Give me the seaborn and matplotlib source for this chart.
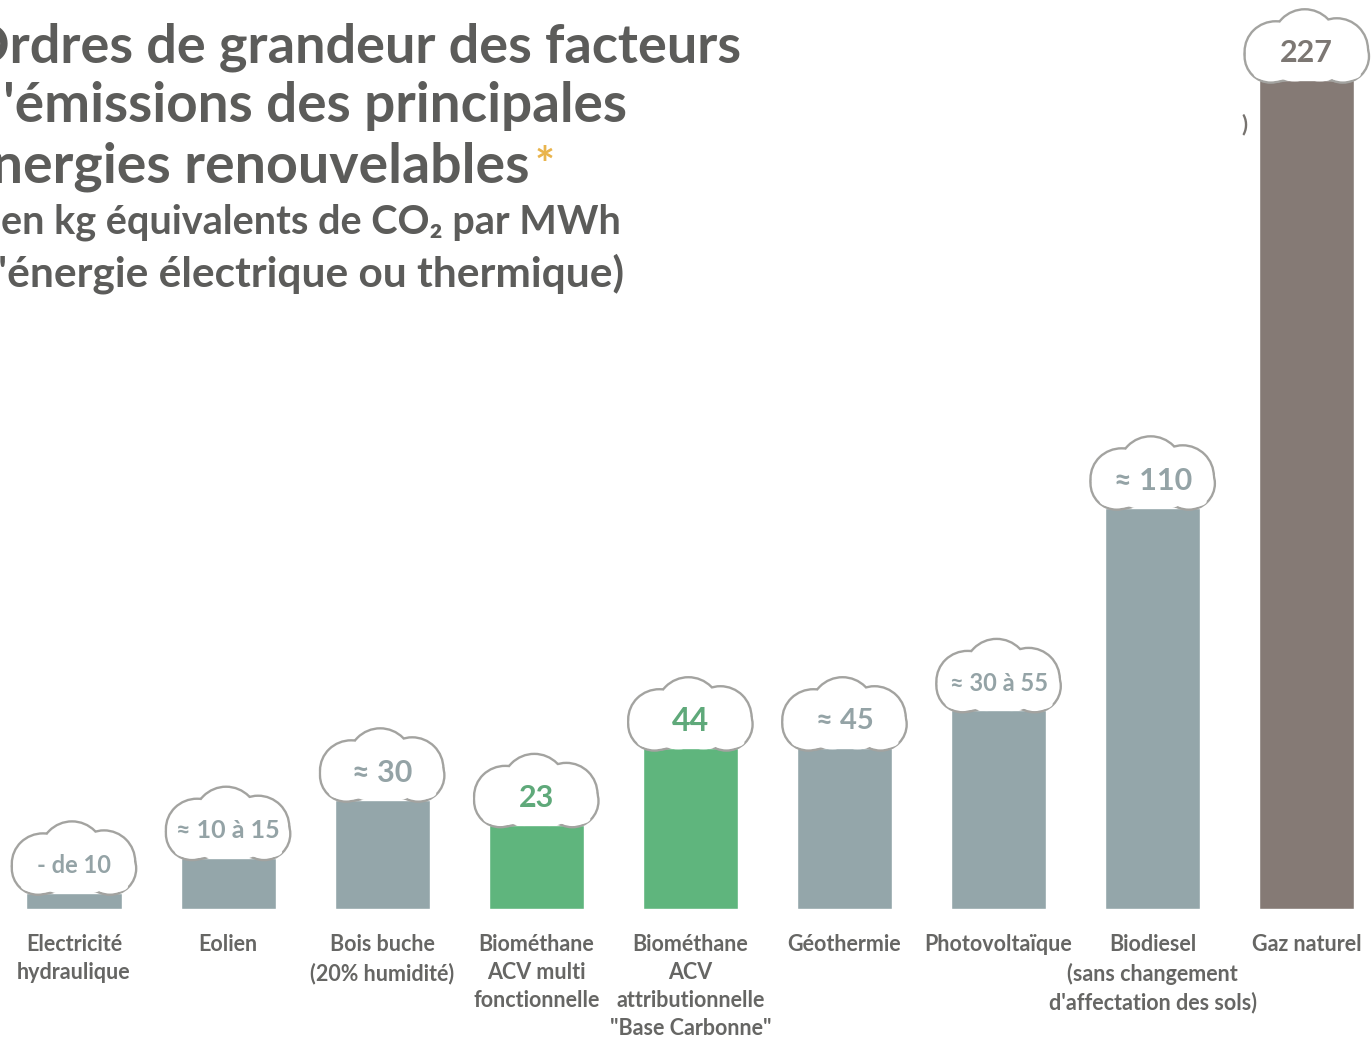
import matplotlib
matplotlib.use("Agg")
import matplotlib.pyplot as plt
from matplotlib.patches import Ellipse
from matplotlib.transforms import Affine2D
import seaborn as sns

sources = ["Electricité\nhydraulique", "Eolien", "Bois buche\n(20% humidité)",
           "Biométhane\nACV multi\nfonctionnelle",
           "Biométhane\nACV\nattributionnelle\n\"Base Carbonne\"",
           "Géothermie", "Photovoltaïque",
           "Biodiesel\n(sans changement\nd'affectation des sols)", "Gaz naturel"]
values = [4.5, 14, 30, 23, 44, 44, 54.5, 110, 227]
cloud_labels = ["- de 10", "≈ 10 à 15", "≈ 30", "23", "44", "≈ 45", "≈ 30 à 55", "≈ 110", "227"]
cloud_sizes = [17, 18, 22, 22, 23, 21, 17, 22, 22]
GREY, GREEN, BROWN = "#94a6aa", "#5fb57d", "#857a75"
bar_colors = [GREY, GREY, GREY, GREEN, GREEN, GREY, GREY, GREY, BROWN]
label_colors = ["#94a3a6", "#94a3a6", "#94a3a6", "#5fa97a", "#5fa97a",
                "#94a3a6", "#94a3a6", "#94a3a6", "#7c7773"]
title_lines = ["Ordres de grandeur des facteurs", "d'émissions des principales", "énergies renouvelables"]
subtitle_lines = ["(en kg équivalents de CO₂ par MWh", "d'énergie électrique ou thermique)"]

W, H = 1371, 1044
TEXT = "#5c5c5a"
FONT = ["Lato", "DejaVu Sans"]
sns.set_theme(style="white")
plt.rcParams["font.family"] = FONT

fig = plt.figure(figsize=(W / 100, H / 100), dpi=100, facecolor="white")
ax = fig.add_axes([0, (H - 909) / H, 1, 909 / H])
sns.barplot(x=sources, y=values, hue=sources, palette=bar_colors, width=0.617,
            legend=False, saturation=1, ax=ax)
ax.set_xlim(-74 / 154.1, (W - 74) / 154.1)
ax.set_ylim(0, 909 / 3.65)
sns.despine(ax=ax, left=True, bottom=True)
ax.set_yticks([])
ax.tick_params(axis="x", length=0, pad=18)
for t in ax.get_xticklabels():
    t.set(fontsize=15.5, fontweight="bold", color="#666664", linespacing=1.42, va="top", ha="center")
ax.patch.set_alpha(0)

# Cloud shape: lobes in pixel offsets from the bar top centre
outline_lobes = [(-31, 29, 60, 58), (-2, 39, 62, 62), (30, 31, 60, 60), (-36, 24, 50, 50), (36, 24, 50, 50)]
base_lobes = [(-36, 6, 34, 12), (-12, 5, 30, 12), (13, 5, 30, 12), (37, 6, 34, 12)]
for i, v in enumerate(values):
    cx, cy = ax.transData.transform((i, v))
    tr = Affine2D().translate(cx, cy)
    for x, y, w, h in outline_lobes:
        ax.add_patch(Ellipse((x, y), w, h, transform=tr, fc="#a3a3a0", ec="#a3a3a0",
                             lw=3.4, zorder=5, clip_on=False))
    for x, y, w, h in outline_lobes:
        ax.add_patch(Ellipse((x, y), w, h, transform=tr, fc="white", ec="white",
                             lw=0, zorder=6, clip_on=False))
    for x, y, w, h in base_lobes:
        ax.add_patch(Ellipse((x, y), w, h, transform=tr, fc="white", ec="white",
                             lw=0, zorder=6, clip_on=False))
    ax.add_patch(Ellipse((0, 20), 100, 36, transform=tr, fc="white", lw=0, zorder=6))
    ax.annotate(cloud_labels[i], (i, v), xytext=(0, 27 * 0.72), textcoords="offset points",
                ha="center", va="center", fontsize=cloud_sizes[i], fontweight="bold",
                color=label_colors[i], zorder=7)


def px(x, y):
    return x / W, 1 - y / H


for line, y, x0, fs in zip(title_lines, [62, 122, 182], [-34, -28, -38], [39, 39.5, 40]):
    fig.text(*px(x0, y), line, fontsize=fs, fontweight="bold", color=TEXT, va="baseline")
for line, y, x0, fs in zip(subtitle_lines, [234, 286], [-10, -26], [28.5, 30.5]):
    fig.text(*px(x0, y), line, fontsize=fs, fontweight="bold", color=TEXT, va="baseline")
fig.text(*px(535, 181), "*", fontsize=34, fontweight="bold", color="#e9b44c", va="baseline")
fig.text(*px(1241, 131), ")", fontsize=16, fontweight="bold", color="#77736f", va="baseline")

fig.savefig("out.png", dpi=100, facecolor="white")
